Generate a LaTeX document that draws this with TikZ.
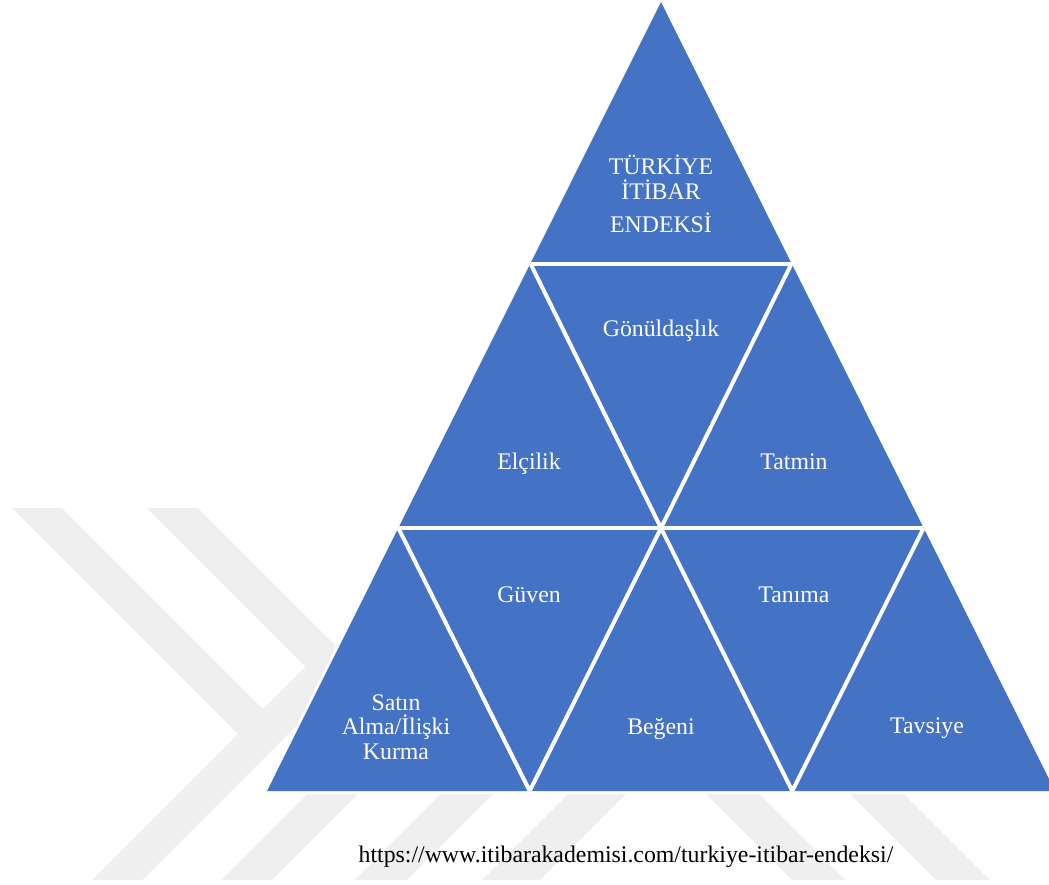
\documentclass[tikz,border=0pt]{standalone}
\usepackage{fontspec}
\setmainfont{Liberation Serif}
\definecolor{pyr}{RGB}{68,114,196}
\definecolor{wmgray}{RGB}{239,239,239}
\begin{document}
\begin{tikzpicture}[x=1pt,y=-1pt,
  lbl/.style={text=white,font=\fontsize{23.8}{25}\selectfont,inner sep=0pt,anchor=base},
  srclbl/.style={text=black,font=\fontsize{23.8}{25}\selectfont,inner sep=0pt,anchor=base},
  cutline/.style={draw=white,line width=4pt},
  wmshape/.style={fill=wmgray,draw=none}]
\useasboundingbox (0,0) rectangle (1049,884);
\clip (0,0) rectangle (1049,884);
% faint background watermark
\fill[wmshape] (147,508) -- (198,508) -- (356,666) -- (142,880) -- (92,880) -- (305.5,666.5) -- cycle;
\fill[wmshape] (12,508) -- (62,508) -- (277,723) -- (252,748) -- cycle;
\fill[wmshape] (221,880) -- (272,880) -- (392,760) -- (341,760) -- cycle;
\fill[wmshape] (355,880) -- (407,880) -- (527,760) -- (475,760) -- cycle;
\fill[wmshape] (482,880) -- (540,880) -- (660,760) -- (602,760) -- cycle;
\fill[wmshape] (672,760) -- (725,760) -- (845,880) -- (792,880) -- cycle;
\fill[wmshape] (816,760) -- (870,760) -- (990,880) -- (936,880) -- cycle;
% pyramid
\coordinate (apex) at (661,2);
\coordinate (bl) at (267,791);
\coordinate (br) at (1055,791);
\draw[white,line width=6pt,line join=round] (apex) -- (br) -- (bl) -- cycle;
\fill[pyr] (apex) -- (br) -- (bl) -- cycle;
\begin{scope}
\clip (apex) -- (br) -- (bl) -- cycle;
\draw[cutline] (200,263.5) -- (1100,263.5);
\draw[cutline] (200,528) -- (1100,528);
\draw[cutline] (530.4,263.5) -- (661,528) -- (791.6,263.5);
\draw[cutline] (398.3,528) -- (529.7,791) -- (661,528) -- (792.3,791) -- (923.7,528);
\end{scope}
% labels
\node[lbl] (t1) at (661,174) {TÜRKİYE};
\node[lbl] (t2) at (661,199) {İTİBAR};
\node[lbl] (t3) at (661,232) {ENDEKSİ};
\node[lbl] (gon) at (661,336) {Gönüldaşlık};
\node[lbl] (elc) at (529,469) {Elçilik};
\node[lbl] (tat) at (794,469) {Tatmin};
\node[lbl] (guv) at (529,602) {Güven};
\node[lbl] (tan) at (794,602) {Tanıma};
\node[lbl] (sa1) at (396,710) {Satın};
\node[lbl] (sa2) at (396,734) {Alma/İlişki};
\node[lbl] (sa3) at (396,759) {Kurma};
\node[lbl] (beg) at (661,734) {Beğeni};
\node[lbl] (tav) at (927,733) {Tavsiye};
\node[srclbl] (src) at (626,862) {https://www.itibarakademisi.com/turkiye-itibar-endeksi/};
\end{tikzpicture}
\end{document}
